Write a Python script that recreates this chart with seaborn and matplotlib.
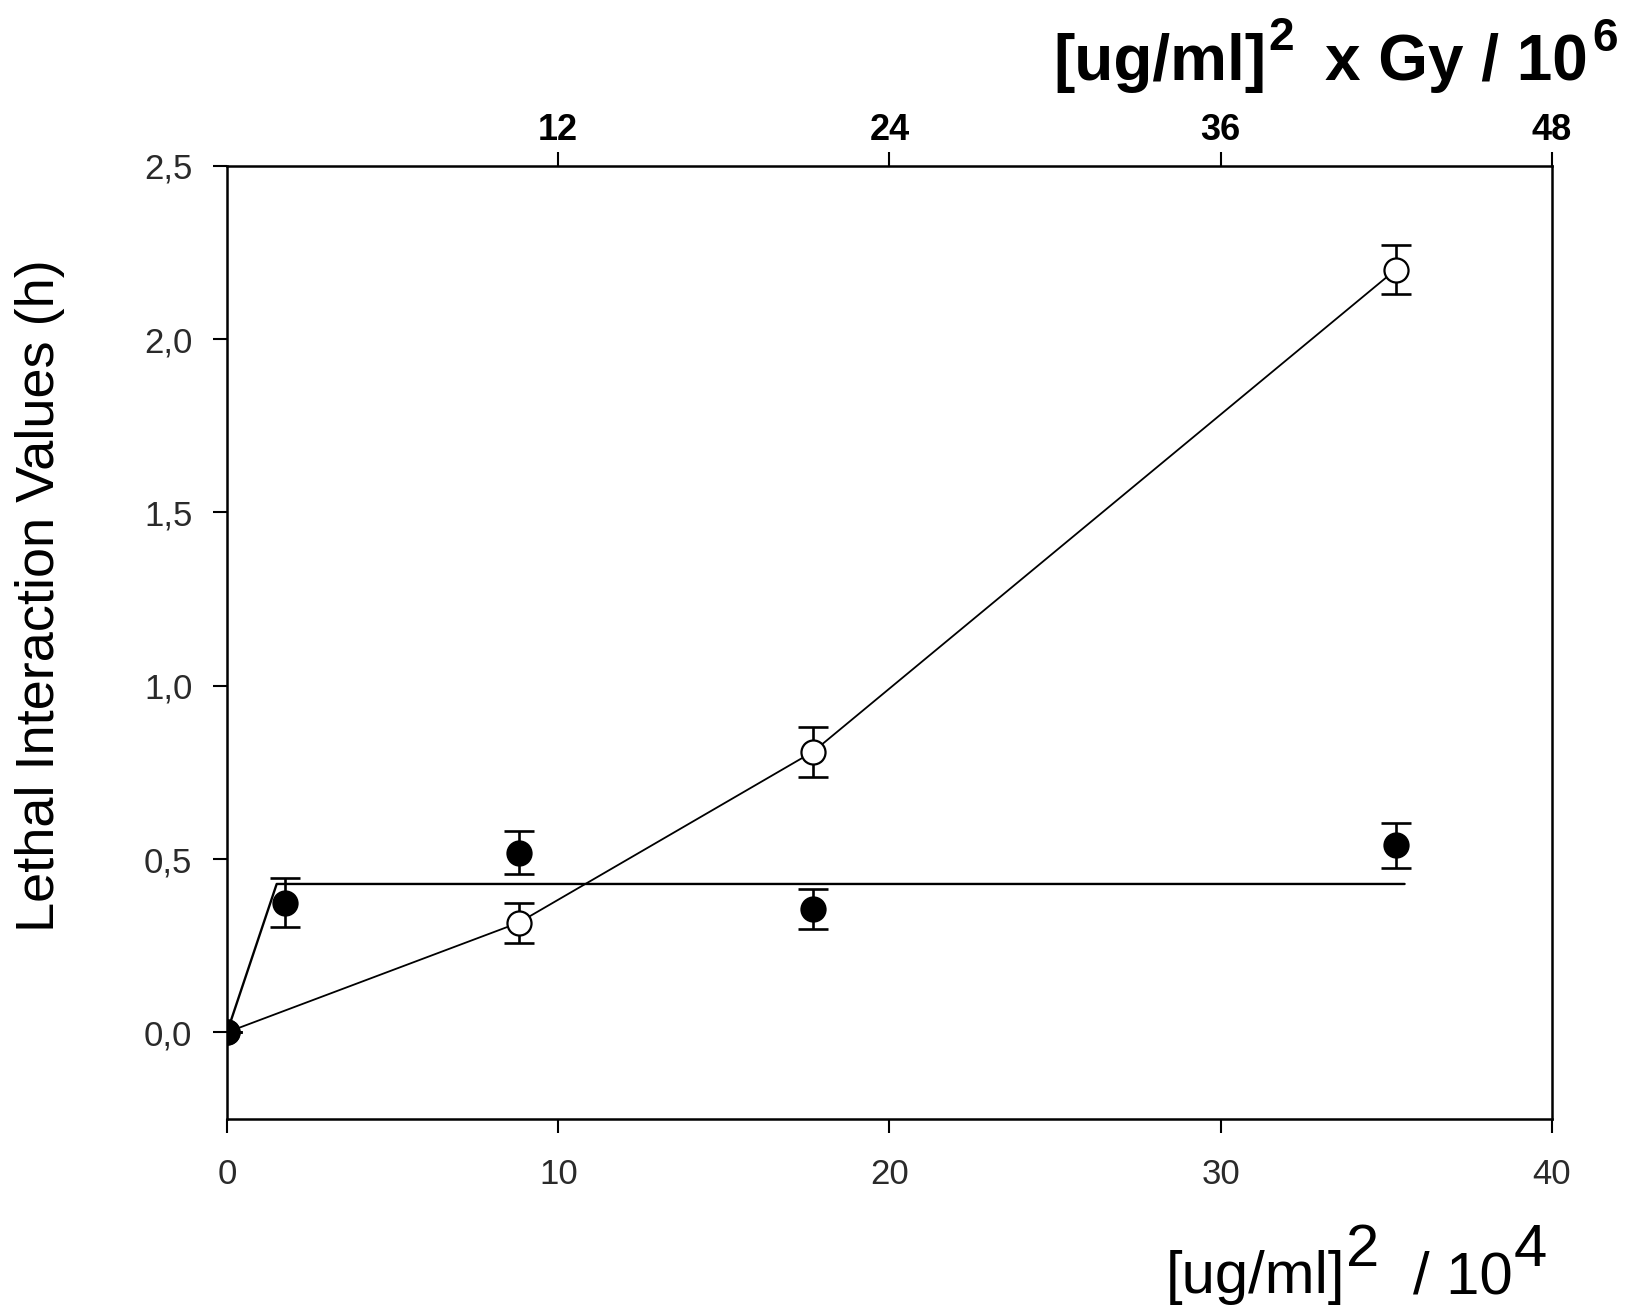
import matplotlib
matplotlib.use("Agg")
import matplotlib.pyplot as plt
import seaborn as sns
import pandas as pd

# Open circles: measured lethal interaction values with SE
open_x = [0.0, 8.8, 17.7, 35.28]
open_y = [0.0, 0.316, 0.81, 2.20]
open_err = [0.0, 0.058, 0.072, 0.07]

# Filled circles: measured lethal interaction values with SE
filled_x = [0.0, 1.76, 8.8, 17.7, 35.28]
filled_y = [0.0, 0.374, 0.518, 0.355, 0.54]
filled_err = [0.0, 0.07, 0.062, 0.058, 0.065]

# Plateau fit for the filled series
fit_x = [0.0, 1.5, 35.55]
fit_y = [0.0, 0.428, 0.428]

x_ticks = [0, 10, 20, 30, 40]
y_ticks = [0.0, 0.5, 1.0, 1.5, 2.0, 2.5]
y_tick_labels = ["0,0", "0,5", "1,0", "1,5", "2,0", "2,5"]
top_ticks = [12, 24, 36, 48]

sns.set_theme(style="white")
plt.rcParams["font.family"] = ["Liberation Sans", "DejaVu Sans"]

W, H = 1648, 1308
fig = plt.figure(figsize=(W / 100, H / 100), dpi=100)
ax = fig.add_axes([227 / W, 1 - 1119 / H, (1552 - 227) / W, (1119 - 165.7) / H])

open_df = pd.DataFrame({"x": open_x, "y": open_y})
filled_df = pd.DataFrame({"x": filled_x, "y": filled_y})
fit_df = pd.DataFrame({"x": fit_x, "y": fit_y})

# connecting line through the open-circle series
sns.lineplot(data=open_df, x="x", y="y", sort=False, estimator=None,
             color="black", lw=1.3, ax=ax, zorder=1)
# plateau fit through the filled series
sns.lineplot(data=fit_df, x="x", y="y", sort=False, estimator=None,
             color="black", lw=1.7, ax=ax, zorder=1)

# error bars
ax.errorbar(open_x, open_y, yerr=open_err, fmt="none", ecolor="black",
            elinewidth=1.9, capsize=10.5, capthick=1.9, zorder=2)
ax.errorbar(filled_x, filled_y, yerr=filled_err, fmt="none", ecolor="black",
            elinewidth=1.9, capsize=10.5, capthick=1.9, zorder=2)

# markers
sns.scatterplot(data=open_df, x="x", y="y", s=300, marker="o",
                facecolor="white", edgecolor="black", linewidth=1.6,
                ax=ax, zorder=3)
sns.scatterplot(data=filled_df, x="x", y="y", s=300, marker="o",
                facecolor="black", edgecolor="black", linewidth=1.6,
                ax=ax, zorder=4)

ax.set_xlim(0, 40)
ax.set_ylim(-0.25, 2.5)
ax.set_xlabel("")
ax.set_ylabel("")

ax.set_xticks(x_ticks)
ax.set_xticklabels([str(t) for t in x_ticks])
ax.set_yticks(y_ticks)
ax.set_yticklabels(y_tick_labels)

for side in ["left", "right", "top", "bottom"]:
    ax.spines[side].set_visible(True)
    ax.spines[side].set_color("black")
    ax.spines[side].set_linewidth(1.8)

ax.tick_params(axis="x", which="both", direction="out", length=10, width=1.5,
               color="black", pad=18, labelsize=25, labelcolor="#2a2a2a",
               bottom=True, top=False)
ax.tick_params(axis="y", which="both", direction="out", length=10, width=1.5,
               color="black", pad=15, labelsize=25, labelcolor="#2a2a2a",
               left=True, right=False)

# secondary top axis: [ug/ml]^2 x Gy / 10^6
top = ax.secondary_xaxis("top", functions=(lambda v: v * 1.2, lambda v: v / 1.2))
top.set_xticks(top_ticks)
top.set_xticklabels([str(t) for t in top_ticks], fontweight="bold")
top.tick_params(axis="x", direction="out", length=10, width=1.5, color="black",
                pad=3, labelsize=26, labelcolor="black")
top.spines["top"].set_visible(False)


def put(text, x_px, base_px, size, weight="normal"):
    fig.text(x_px / W, 1 - base_px / H, text, fontsize=size, fontweight=weight,
             ha="left", va="baseline", color="black")


# top axis title
put("[ug/ml]", 1053, 80, 46, "bold")
put("2", 1268, 50, 33, "bold")
put("x Gy / 10", 1325, 80, 46, "bold")
put("6", 1592, 51, 33, "bold")

# bottom axis title
put("[ug/ml]", 1166, 1293, 43)
put("2", 1346, 1266, 43)
put("/ 10", 1413, 1293, 43)
put("4", 1514, 1266, 43)

# y axis title
fig.text(40 / W, 1 - 596 / H, "Lethal Interaction Values (h)", fontsize=39,
         rotation=90, ha="center", va="center", color="black")

fig.savefig("out.png", dpi=100, facecolor="white")
